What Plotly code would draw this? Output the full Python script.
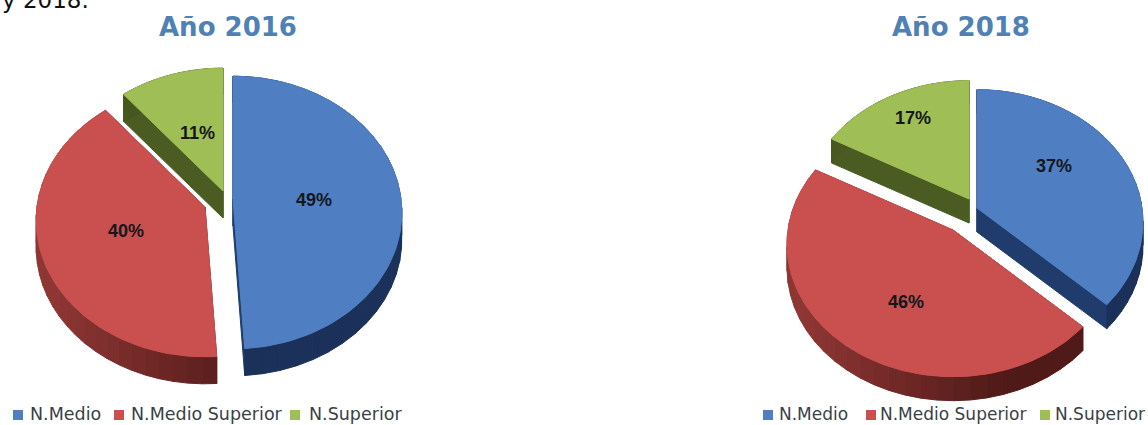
import math
import plotly.graph_objects as go

# ---- data ----
categories = ["N.Medio", "N.Medio Superior", "N.Superior"]
titles = ["Año 2016", "Año 2018"]
values_2016 = [49, 40, 11]
values_2018 = [37, 46, 17]

# ---- styles ----
TOP = ["#4F7FC2", "#C9504F", "#9FBE55"]
SIDE_A = ["#1F3C6C", "#8E3634", "#4A5C22"]
SIDE_B = ["#1B3159", "#4F1A18", "#3F4F1B"]
TITLE_COLOR = "#4F81B5"

CHARTS = [
    dict(values=values_2016, title=titles[0], cx=222, cy=199, rx=168, ry=135, k=0.099, depth=27,
         explode=[(11, 0), (-17, 8), (1, -8)],
         label_shift=[(-3, 3), (1, -1), (2, 3)], title_x=228, title_y=27, leg_y=415,
         leg_sq=[18, 119, 295], leg_tx=[28, 129, 307], leg_size=17.5),
    dict(values=values_2018, title=titles[1], cx=970, cy=210, rx=165, ry=131, k=0.107, depth=24,
         explode=[(7, -2), (-17, 20), (-1, -11)],
         label_shift=[(3, -17), (4, 17), (-16, -27)], title_x=961, title_y=27, leg_y=415,
         leg_sq=[768, 871, 1045], leg_tx=[777, 878, 1053], leg_size=17),
]


def project(c, u, v):
    d = 1 - c["k"] * v
    return c["rx"] * u / d, c["ry"] * v / d


def arc(c, a0, a1, ox, oy, n=96):
    pts = []
    for i in range(n + 1):
        t = math.radians(a0 + (a1 - a0) * i / n)
        x, y = project(c, math.sin(t), -math.cos(t))
        pts.append((c["cx"] + ox + x, c["cy"] + oy + y))
    return pts


def mix(a, b, t):
    ca = [int(a[i:i + 2], 16) for i in (1, 3, 5)]
    cb = [int(b[i:i + 2], 16) for i in (1, 3, 5)]
    return "#%02x%02x%02x" % tuple(round(p + (q - p) * t) for p, q in zip(ca, cb))


def poly(pts, color, name=None):
    xs = [p[0] for p in pts] + [pts[0][0]]
    ys = [p[1] for p in pts] + [pts[0][1]]
    return go.Scatter(x=xs, y=ys, mode="lines", fill="toself", fillcolor=color,
                      line=dict(color=color, width=1), hoverinfo="skip" if name is None else "name",
                      name=name or "", showlegend=False)


fig = go.Figure()
annotations = []

for c in CHARTS:
    total = sum(c["values"])
    spans = []
    start = 0.0
    for v in c["values"]:
        end = start + 360.0 * v / total
        spans.append((start, end))
        start = end
    order = [2, 0, 1]
    # extruded sides first
    for i in order:
        a0, a1 = spans[i]
        ox, oy = c["explode"][i]
        d = c["depth"]
        apex = (c["cx"] + ox, c["cy"] + oy)
        low = (apex[0], apex[1] + d)
        a = arc(c, a0, a1, ox, oy)
        for e in (a[0], a[-1]):
            fig.add_trace(poly([apex, e, (e[0], e[1] + d), low], SIDE_A[i] if i != 1 else SIDE_B[i]))
        strips = 32
        step = (len(a) - 1) // strips
        for s in range(strips):
            seg = a[s * step:(s + 1) * step + 1]
            back = [(p[0], p[1] + d) for p in reversed(seg)]
            # lighter to the left, darker towards the lower right
            mx = sum(p[0] for p in seg) / len(seg)
            t = min(1, max(0, (mx - (c["cx"] - c["rx"])) / (1.2 * c["rx"])))
            fig.add_trace(poly(seg + back, mix(SIDE_A[i], SIDE_B[i], t)))
    # top faces
    for i in order:
        a0, a1 = spans[i]
        ox, oy = c["explode"][i]
        apex = (c["cx"] + ox, c["cy"] + oy)
        fig.add_trace(poly([apex] + arc(c, a0, a1, ox, oy), TOP[i],
                           f"{categories[i]} {c['values'][i]}%"))
    # value labels
    for i in range(3):
        a0, a1 = spans[i]
        t = math.radians((a0 + a1) / 2)
        x, y = project(c, 0.5 * math.sin(t), -0.5 * math.cos(t))
        ox, oy = c["explode"][i]
        sx, sy = c["label_shift"][i]
        annotations.append(dict(x=c["cx"] + ox + x + sx, y=c["cy"] + oy + y + sy, xref="x", yref="y",
                                text=f"<b>{c['values'][i]}%</b>", showarrow=False,
                                font=dict(family="Liberation Sans", size=18, color="#14181c")))
    # title
    annotations.append(dict(x=c["title_x"], y=c["title_y"], xref="x", yref="y", text=f"<b>{c['title']}</b>",
                            showarrow=False,
                            font=dict(family="DejaVu Sans", size=26, color=TITLE_COLOR)))
    # legend
    fig.add_trace(go.Scatter(x=c["leg_sq"], y=[c["leg_y"]] * 3, mode="markers", hoverinfo="skip",
                             showlegend=False,
                             marker=dict(symbol="square", size=10, color=TOP)))
    for i in range(3):
        annotations.append(dict(x=c["leg_tx"][i], y=c["leg_y"] - 1, xref="x", yref="y", text=categories[i],
                                xanchor="left", showarrow=False,
                                font=dict(family="DejaVu Sans", size=c["leg_size"], color="#3a3f45")))

annotations.append(dict(x=0, y=15, xref="x", yref="y", text="y 2018.", xanchor="left", yanchor="bottom",
                        showarrow=False, font=dict(family="DejaVu Sans", size=23, color="#111111")))

fig.update_layout(
    width=1148, height=425, margin=dict(l=0, r=0, t=0, b=0), paper_bgcolor="white", plot_bgcolor="white",
    xaxis=dict(range=[0, 1148], visible=False, fixedrange=True),
    yaxis=dict(range=[425, 0], visible=False, fixedrange=True),
    annotations=annotations,
)
fig.write_html("out.html", config=dict(displayModeBar=False),
               post_script="document.body.style.margin='0';document.body.style.overflow='hidden';")
